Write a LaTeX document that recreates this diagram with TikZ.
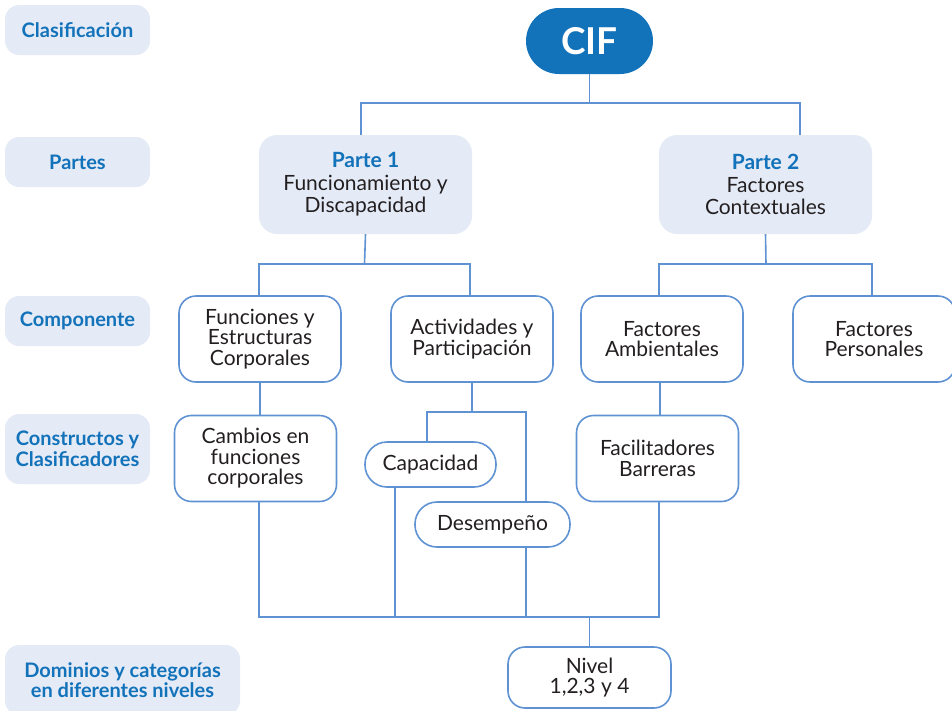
\documentclass[tikz,border=0pt]{standalone}
\usepackage{fontspec}
\setmainfont{Lato}
\usetikzlibrary{positioning}
\definecolor{lblue}{HTML}{E4EAF6}
\definecolor{dblue}{HTML}{1272BA}
\definecolor{lineblue}{HTML}{5F92D2}
\definecolor{txt}{HTML}{231F20}
\begin{document}
\begin{tikzpicture}[x=1pt,y=-1pt,
  lab/.style={fill=lblue, rounded corners=14pt, text=dblue, font=\bfseries\fontsize{20}{20.5}\selectfont, align=center, inner sep=0pt},
  parte/.style={fill=lblue, rounded corners=18pt, minimum width=213pt, minimum height=99pt, align=center, text=txt, font=\fontsize{21}{22.5}\selectfont, inner sep=0pt},
  comp/.style={draw=lineblue, line width=1.6pt, fill=white, rounded corners=17pt, minimum width=162pt, minimum height=86pt, align=center, text=txt, font=\fontsize{21}{20.5}\selectfont, inner sep=0pt},
  pill/.style={draw=lineblue, line width=1.6pt, fill=white, rounded corners=22pt, minimum height=45pt, align=center, text=txt, font=\fontsize{21}{21}\selectfont, inner sep=0pt},
  conn/.style={draw=lineblue, line width=1.6pt}
]
\useasboundingbox (0,0) rectangle (952,710);
\begin{scope}
\clip (0,0) rectangle (952,710);
% left labels
\node[lab, minimum width=145pt, minimum height=50pt] (l1) at (77.5,30) {Clasificación};
\node[lab, minimum width=145pt, minimum height=50pt] (l2) at (77.5,162) {Partes};
\node[lab, minimum width=145pt, minimum height=50pt] (l3) at (77.5,321) {Componente};
\node[lab, minimum width=145pt, minimum height=70pt] (l4) at (77.5,449) {Constructos y\\Clasificadores};
\node[lab, minimum width=235pt, minimum height=70pt] (l5) at (122.5,680) {Dominios y categorías\\en diferentes niveles};
% CIF
\node[fill=dblue, rounded corners=33pt, minimum width=127pt, minimum height=66pt, text=white, font=\bfseries\fontsize{37}{40}\selectfont, inner sep=0pt] (cif) at (589.5,41) {CIF};
% partes
\node[parte] (p1) at (365.5,184.5) {\textcolor{dblue}{\bfseries Parte 1}\\Funcionamiento y\\Discapacidad};
\node[parte] (p2) at (765.5,184.5) {\textcolor{dblue}{\bfseries Parte 2}\\Factores\\Contextuales};
% components
\node[comp] (c1) at (260,339) {Funciones y\\Estructuras\\Corporales};
\node[comp] (c2) at (472,339) {Actividades y\\Participación};
\node[comp] (c3) at (662,339) {Factores\\Ambientales};
\node[comp] (c4) at (874,339) {Factores\\Personales};
% constructs
\node[comp] (k1) at (255.5,458.5) {Cambios en\\funciones\\corporales};
\node[pill, minimum width=131pt] (cap) at (430.5,464.5) {Capacidad};
\node[pill, minimum width=155pt] (des) at (492.5,524.5) {Desempeño};
\node[comp] (k3) at (657.5,458.5) {Facilitadores\\Barreras};
% level
\node[comp, minimum width=163pt, minimum height=61pt] (niv) at (589.5,677.5) {Nivel\\1,2,3 y 4};
% coordinates
\coordinate (t1) at (589.5,103);
\coordinate (t2) at (364.5,264);
\coordinate (t3) at (766,264);
\coordinate (t4) at (472,412);
\coordinate (b1) at (589.5,617);
% connectors
\draw[conn] (cif.south) -- (t1);
\draw[conn] (p1.north -| 361,0) |- (t1) -| (p2.north -| 800,0);
\draw[conn] (p1.south) -- (t2);
\draw[conn] (c1.north -| 259,0) |- (t2) -| (c2.north -| 470,0);
\draw[conn] (p2.south) -- (t3);
\draw[conn] (c3.north -| 659,0) |- (t3) -| (c4.north -| 872,0);
\draw[conn] (c1.south) -- (k1.north -| c1.south);
\draw[conn] (c2.south) -- (t4);
\draw[conn] (cap.north -| 427,0) |- (t4) -| (des.north -| 526,0);
\draw[conn] (c3.south -| 660,0) -- (k3.north -| 660,0);
\draw[conn] (k1.south -| 259,0) |- (b1) -| (k3.south -| 659,0);
\draw[conn] (cap.south -| 395,0) -- (b1 -| 395,0);
\draw[conn] (des.south -| 526,0) -- (b1 -| 526,0);
\draw[conn] (b1) -- (niv.north);
\end{scope}
\end{tikzpicture}
\end{document}
